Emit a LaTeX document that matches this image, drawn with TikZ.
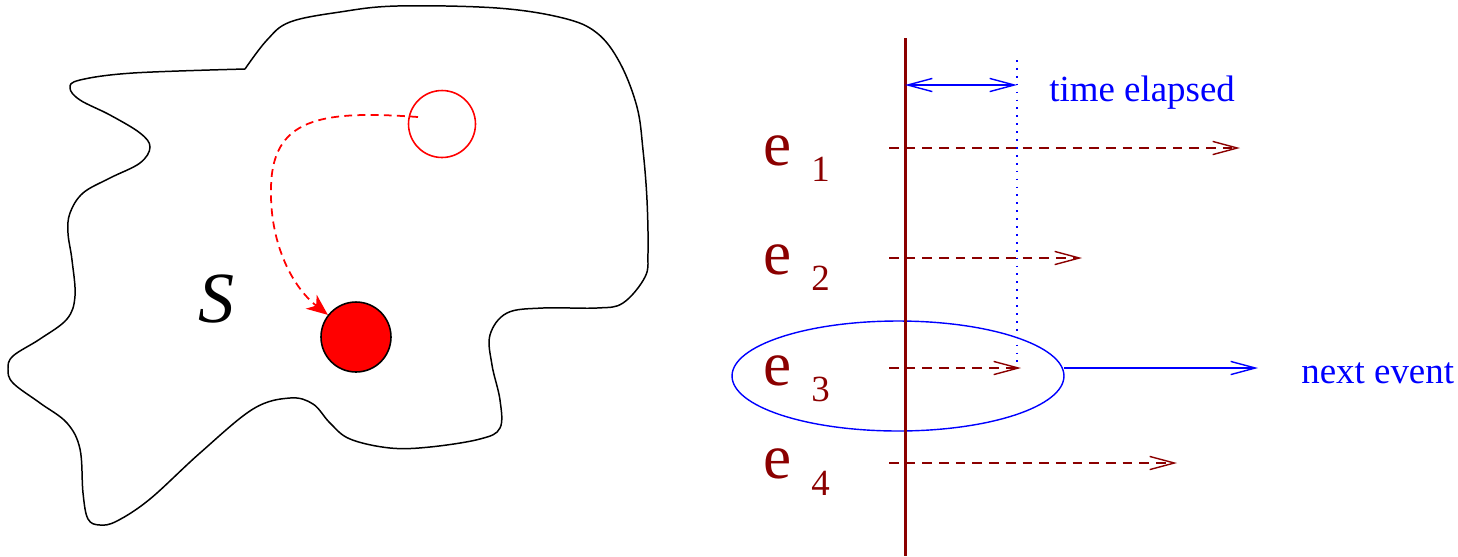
\documentclass[tikz,border=0pt]{standalone}
\usepackage{fontspec}
\setmainfont{Liberation Serif}
\newfontfamily\tms{Liberation Serif}
\usetikzlibrary{arrows.meta,shapes.geometric}
\definecolor{darkred}{RGB}{139,0,0}
\begin{document}
\begin{tikzpicture}[x=0.02cm,y=-0.02cm,
  barb/.style={-{Straight Barb[length=14pt,width=7.5pt]}},
  evarrow/.style={darkred, line width=0.8pt, dash pattern=on 5.5pt off 4pt, barb},
  elabel/.style={darkred, anchor=base west, inner sep=0pt, font=\tms\fontsize{36}{36}\selectfont},
  esub/.style={darkred, anchor=base west, inner sep=0pt, font=\tms\fontsize{21}{21}\selectfont},
  bluetext/.style={blue, anchor=base west, inner sep=0pt, font=\tms\fontsize{21}{21}\selectfont},
]
\useasboundingbox (0,0) rectangle (1458,556);

% ---- left: region S ----
\draw[line width=0.85pt] plot[smooth, tension=0.6] coordinates {
 (245,69) (267,40) (290,22) (340,12) (397,6) (497,8) (563,18) (597,33) (620,63)
 (637,107) (643,150) (647,200) (648,253) (645,277) (623,303) (597,308) (543,308)
 (507,313) (490,335) (492,365) (500,400) (500,428) (480,439) (430,447) (390,448)
 (350,439) (330,423) (313,404) (290,398) (253,409) (200,453) (150,499) (117,521)
 (100,525) (88,519) (83,493) (80,449) (67,423) (40,403) (13,383) (8,369) (13,356)
 (40,339) (67,319) (75,296) (72,260) (68,233) (70,213) (83,193) (110,178) (140,163)
 (150,147) (140,133) (110,115) (80,100) (70,88) (80,80) (133,73) (245,69)};

\node (S) [anchor=base west, inner sep=0pt, font=\tms\fontsize{41}{41}\itshape\selectfont] at (198,322) {S};

\node (a) [circle, draw=red, line width=0.9pt, minimum size=1.34cm, inner sep=0pt] at (442,124) {};
\node (b) [circle, draw=black, fill=red, line width=0.9pt, minimum size=1.40cm, inner sep=0pt] at (356,337) {};
\coordinate (s) at (418,117);
\draw[red, line width=1pt, dash pattern=on 4.5pt off 3pt, -{Stealth[length=12pt,width=10pt,inset=3.5pt]}]
  (s) .. controls (320,110) and (271,118) .. (271,190)
      .. controls (270,240) and (290,285) .. (b);

% ---- right: events ----
\node (E) [draw=blue, ellipse, line width=0.8pt, minimum width=6.64cm, minimum height=2.2cm, inner sep=0pt] at (898,376) {};

\coordinate (vt) at (905,38);
\coordinate (vb) at (905,556);
\draw[darkred, line width=1.7pt] (vt) -- (vb);

\coordinate (dt) at (1017,60);
\coordinate (db) at (1017,366);
\draw[blue, line width=0.8pt, dash pattern=on 1pt off 3.5pt] (dt) -- (db);

\coordinate (t0) at (905,85);
\coordinate (t1) at (1017,85);
\draw[blue, line width=0.8pt, {Straight Barb[length=14pt,width=7.5pt]}-{Straight Barb[length=14pt,width=7.5pt]}] (t0) -- (t1);
\node (te) [bluetext] at (1049,101) {time elapsed};

\coordinate (s1) at (889,148); \coordinate (f1) at (1240,148);
\coordinate (s2) at (889,258); \coordinate (f2) at (1082,258);
\coordinate (s3) at (889,368); \coordinate (f3) at (1021,368);
\coordinate (s4) at (889,463); \coordinate (f4) at (1177,463);
\draw[evarrow] (s1) -- (f1);
\draw[evarrow] (s2) -- (f2);
\draw[evarrow] (s3) -- (f3);
\draw[evarrow] (s4) -- (f4);

\node (L1) [elabel] at (763,165) {e};
\node (L1s) [esub] at (811,181) {1};
\node (L2) [elabel] at (763,274) {e};
\node (L2s) [esub] at (811,290) {2};
\node (L3) [elabel] at (763,385) {e};
\node (L3s) [esub] at (811,401) {3};
\node (L4) [elabel] at (763,478) {e};
\node (L4s) [esub] at (811,495) {4};

\coordinate (n0) at (1064,368);
\coordinate (n1) at (1258,368);
\draw[blue, line width=0.8pt, barb] (n0) -- (n1);
\node (ne) [bluetext] at (1301,383) {next event};
\end{tikzpicture}
\end{document}
